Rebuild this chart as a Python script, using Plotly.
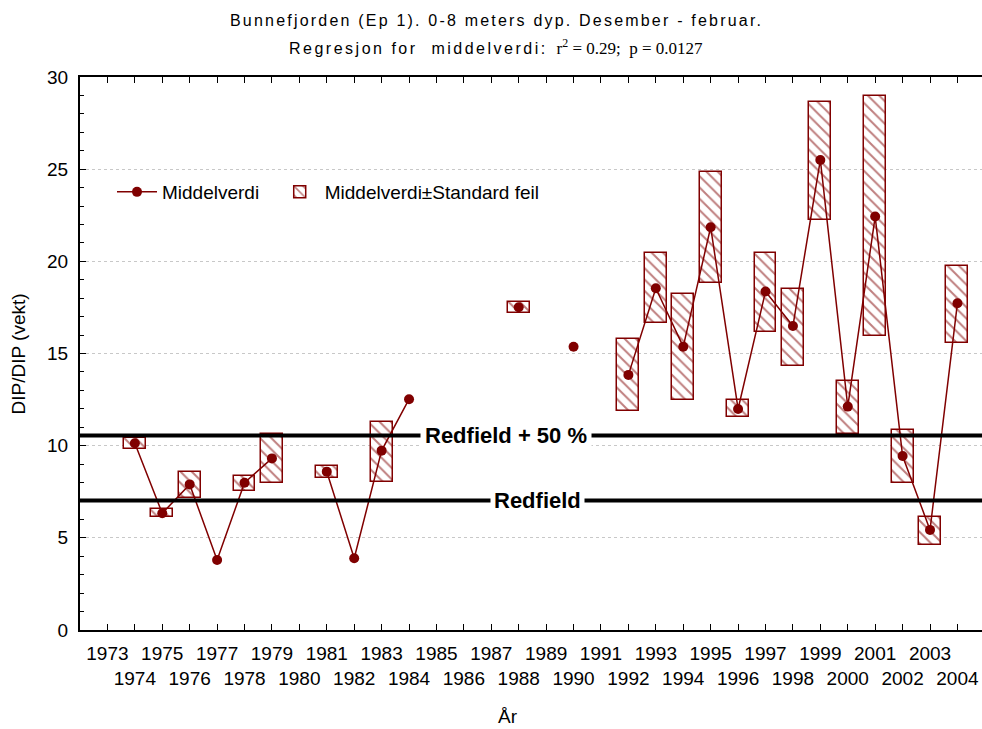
import plotly.graph_objects as go

years = list(range(1973, 2005))
middelverdi = [None, 10.13, 6.33, 7.90, 3.80, 7.99, 9.31, None, 8.59, 3.89, 9.73, 12.52,
               None, None, None, 17.51, None, 15.37, None, 13.84, 18.54, 15.37, 21.85,
               11.99, 18.36, 16.49, 25.50, 12.12, 22.43, 9.44, 5.43, 17.73]
se_low = [None, 9.82, 6.15, 7.15, None, 7.56, 7.96, None, 8.27, None, 8.05, None,
          None, None, None, 17.18, None, None, None, 11.88, 16.68, 12.48, 18.85,
          11.57, 16.15, 14.34, 22.23, 10.63, 15.95, 7.96, 4.60, 15.56]
se_high = [None, 10.43, 6.55, 8.59, None, 8.37, 10.63, None, 8.90, None, 11.27, None,
           None, None, None, 17.82, None, None, None, 15.77, 20.47, 18.23, 24.87,
           12.48, 20.47, 18.52, 28.67, 13.51, 28.99, 10.85, 6.11, 19.75]
redfield = 7.03
redfield50 = 10.55
tick_text = [str(y) if y % 2 else "<br>" + str(y) for y in years]

RED = "#800000"
SANS = "Liberation Sans, Arial, sans-serif"

bx = [y for y, lo in zip(years, se_low) if lo is not None]
bbase = [lo for lo in se_low if lo is not None]
bh = [hi - lo for lo, hi in zip(se_low, se_high) if lo is not None]

fig = go.Figure()
fig.add_trace(go.Scatter(
    x=years, y=middelverdi, mode="lines+markers", name="Middelverdi&nbsp;&nbsp;",
    line=dict(color=RED, width=1.5), marker=dict(color=RED, size=10),
    connectgaps=False))
fig.add_trace(go.Bar(
    x=bx, y=bh, base=bbase, width=0.8, name="Middelverdi±Standard feil",
    marker=dict(color="white", line=dict(color=RED, width=1.5),
                pattern=dict(shape="\\", fgcolor=RED, bgcolor="white", size=8, solidity=0.25))))

fig.add_hline(y=redfield, line=dict(color="black", width=4))
fig.add_hline(y=redfield50, line=dict(color="black", width=4))

fig.add_annotation(x=1988.7, y=redfield, text="Redfield", showarrow=False,
                   font=dict(family=SANS, size=22, color="black", weight="bold"),
                   bgcolor="white", borderpad=3, xanchor="center", yanchor="middle")
fig.add_annotation(x=1987.55, y=redfield50, text="Redfield + 50 %", showarrow=False,
                   font=dict(family=SANS, size=22, color="black", weight="bold"),
                   bgcolor="white", borderpad=4, xanchor="center", yanchor="middle")

fig.add_annotation(xref="paper", yref="paper", x=(496 - 80) / 902, y=1 + (77 - 20) / 553,
                   text="<span style='letter-spacing:2.2px'>Bunnefjorden (Ep 1). 0-8 meters dyp. Desember - februar.</span>",
                   showarrow=False, xanchor="center", yanchor="middle",
                   font=dict(family=SANS, size=16, color="black"))
fig.add_annotation(xref="paper", yref="paper", x=(496 - 80) / 902, y=1 + (77 - 47) / 553,
                   text="<span style='letter-spacing:2.5px'>Regresjon for&nbsp; middelverdi:</span>&nbsp; "
                        "<span style='font-family:Liberation Serif, Times New Roman, serif;font-size:17px'>r<sup>2</sup> = 0.29;&nbsp; p = 0.0127</span>",
                   showarrow=False, xanchor="center", yanchor="middle",
                   font=dict(family=SANS, size=16, color="black"))
fig.add_annotation(xref="paper", yref="paper", x=(508 - 80) / 902, y=-(716 - 630) / 553,
                   text="År", showarrow=False, xanchor="center", yanchor="middle",
                   font=dict(family=SANS, size=19, color="black"))
fig.add_annotation(xref="paper", yref="paper", x=(18 - 80) / 902, y=0.5,
                   text="DIP/DIP (vekt)", showarrow=False, textangle=-90,
                   xanchor="center", yanchor="middle",
                   font=dict(family=SANS, size=19, color="black"))

fig.update_layout(
    width=982, height=729,
    margin=dict(l=80, r=0, t=77, b=99, autoexpand=False),
    plot_bgcolor="white", paper_bgcolor="white",
    font=dict(family=SANS, size=19, color="black"),
    showlegend=True,
    legend=dict(orientation="h", x=(112 - 80) / 902, y=(630 - 192) / 553,
                xanchor="left", yanchor="middle", bgcolor="rgba(0,0,0,0)",
                font=dict(size=19), itemwidth=40),
    bargap=0,
)
fig.update_xaxes(range=[1972, 1972 + 902 / 27.42], tickvals=years, ticktext=tick_text,
                 tickangle=0, automargin=False, ticklabelstandoff=5,
                 ticks="inside", ticklen=6, tickcolor="black", showline=True,
                 linecolor="black", linewidth=2, mirror="ticks", showgrid=False,
                 zeroline=False, tickfont=dict(size=19))
fig.update_yaxes(range=[0, 30], tickvals=[0, 5, 10, 15, 20, 25, 30], ticks="inside",
                 automargin=False, ticklabelstandoff=6,
                 ticklen=6, tickcolor="black", showline=True, linecolor="black",
                 linewidth=2, showgrid=True, gridcolor="#c8c8c8", griddash="dot",
                 gridwidth=1, zeroline=False, tickfont=dict(size=19),
                 minor=dict(dtick=1, ticks="inside", ticklen=4, tickcolor="black", showgrid=False))

fig.write_html("out.html", config={"displayModeBar": False},
               post_script="document.body.style.margin='0';document.documentElement.style.overflow='hidden';")
